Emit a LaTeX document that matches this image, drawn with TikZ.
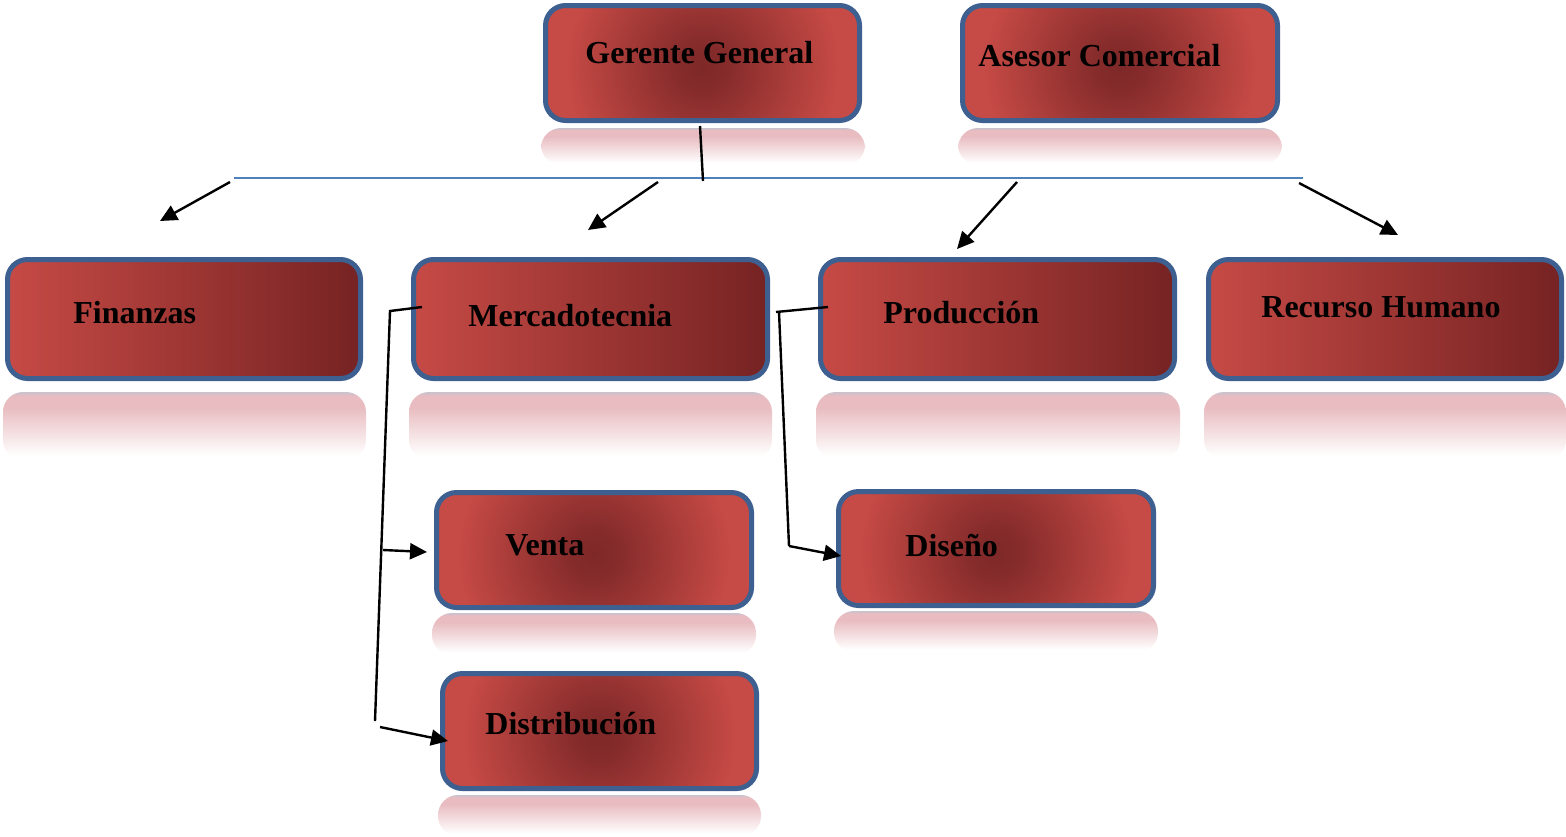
\documentclass[tikz,border=0pt]{standalone}
\usepackage{fontspec}
\setmainfont{Liberation Serif}
\usetikzlibrary{arrows.meta}
\definecolor{boxlight}{RGB}{198,74,69}
\definecolor{boxdark}{RGB}{118,35,35}
\definecolor{boxmid}{RGB}{126,40,40}
\definecolor{boxborder}{RGB}{62,96,145}
\definecolor{linkblue}{RGB}{79,129,189}
\definecolor{reflpink}{RGB}{232,188,192}
\definecolor{reflgray}{RGB}{200,194,206}
\pgfdeclareradialshading{boxrad}{\pgfpoint{0bp}{0bp}}{color(0bp)=(boxmid); color(3bp)=(boxmid!90!boxlight); color(17bp)=(boxlight); color(50bp)=(boxlight)}
\pgfdeclareverticalshading{reflsh}{100bp}{color(0bp)=(white); color(28bp)=(white); color(64bp)=(reflpink); color(72bp)=(reflpink); color(75bp)=(reflgray); color(100bp)=(reflgray)}
\begin{document}
\begin{tikzpicture}[x=0.5pt,y=-0.5pt,
  boxbase/.style={draw=boxborder, line width=2.5pt, rounded corners=10pt, inner sep=0pt},
  radbox/.style={boxbase, fill=boxlight,
     path picture={\fill[shading=boxrad] ([yshift=-2pt]path picture bounding box.center) circle (100pt);}},
  linbox/.style={boxbase, left color=boxlight, right color=boxdark},
  refl/.style={rounded corners=10pt, shading=reflsh, draw=none},
  lbl/.style={font=\fontsize{16}{19}\selectfont\bfseries, anchor=base west, inner sep=0pt},
  conn/.style={line width=1.2pt, black},
  arr/.style={conn, -{Triangle[length=8.5pt,width=8pt]}}
]
\useasboundingbox (0,0) rectangle (1566,836);

% reflections
\shade[refl] (541,128) rectangle (865,165);
\shade[refl] (958,128) rectangle (1282,165);
\shade[refl] (3,392) rectangle (366,460);
\shade[refl] (409,392) rectangle (772,460);
\shade[refl] (816,392) rectangle (1180,460);
\shade[refl] (1204,392) rectangle (1566,460);
\shade[refl] (432,613) rectangle (756,655);
\shade[refl] (834,611) rectangle (1158,652);
\shade[refl] (438,795) rectangle (761,836);

% boxes
\node[radbox, minimum width=157pt, minimum height=57.5pt] (gg) at (702.5,63) {};
\node[radbox, minimum width=157.5pt, minimum height=57.5pt] (ac) at (1120,63) {};
\node[linbox, minimum width=176.5pt, minimum height=59.5pt] (fin) at (184,319) {};
\node[linbox, minimum width=177pt, minimum height=59.5pt] (mer) at (590.5,319) {};
\node[linbox, minimum width=177pt, minimum height=59.5pt] (pro) at (997.5,319) {};
\node[linbox, minimum width=176.5pt, minimum height=59.5pt] (rh) at (1385,319) {};
\node[radbox, minimum width=157.5pt, minimum height=57.5pt] (ven) at (594,550) {};
\node[radbox, minimum width=157.5pt, minimum height=57pt] (dis) at (996,548.5) {};
\node[radbox, minimum width=157pt, minimum height=57.5pt] (dst) at (599.5,731) {};

% labels
\node[lbl] (tgg) at (585,63) {Gerente General};
\node[lbl] (tac) at (978,66) {Asesor Comercial};
\node[lbl] (tfin) at (73,323) {Finanzas};
\node[lbl] (tmer) at (468,326) {Mercadotecnia};
\node[lbl] (tpro) at (883,323) {Producción};
\node[lbl] (trh) at (1261,317) {Recurso Humano};
\node[lbl] (tven) at (505,555) {Venta};
\node[lbl] (tdis) at (905,556) {Diseño};
\node[lbl] (tdst) at (485,734) {Distribución};

% connector points
\coordinate (ggdown) at (700,126);
\coordinate (busC) at (703,181);
\coordinate (busL) at (234,178);
\coordinate (busR) at (1303,178);
\coordinate (a1s) at (230,182); \coordinate (a1e) at (160,221);
\coordinate (a2s) at (658,182); \coordinate (a2e) at (588,230);
\coordinate (a3s) at (1017,182); \coordinate (a3e) at (957,249);
\coordinate (a4s) at (1299,183); \coordinate (a4e) at (1398,235);
\coordinate (m1) at (422,307); \coordinate (m2) at (390,311); \coordinate (m3) at (375,721);
\coordinate (v1) at (383,550); \coordinate (v2) at (427,552);
\coordinate (d1) at (380,727); \coordinate (d2) at (448,741);
\coordinate (p1) at (828,307); \coordinate (p2) at (776,312);
\coordinate (p3) at (779,312); \coordinate (p4) at (789,546); \coordinate (p5) at (841,556);

% connectors
\draw[linkblue, line width=1pt] (busL) -- (busR);
\draw[conn] (ggdown) -- (busC);
\draw[arr] (a1s) -- (a1e);
\draw[arr] (a2s) -- (a2e);
\draw[arr] (a3s) -- (a3e);
\draw[arr] (a4s) -- (a4e);
\draw[conn] (m1) -- (m2) -- (m3);
\draw[arr] (v1) -- (v2);
\draw[arr] (d1) -- (d2);
\draw[conn] (p1) -- (p2);
\draw[conn] (p3) -- (p4);
\draw[arr] (p4) -- (p5);
\end{tikzpicture}
\end{document}
